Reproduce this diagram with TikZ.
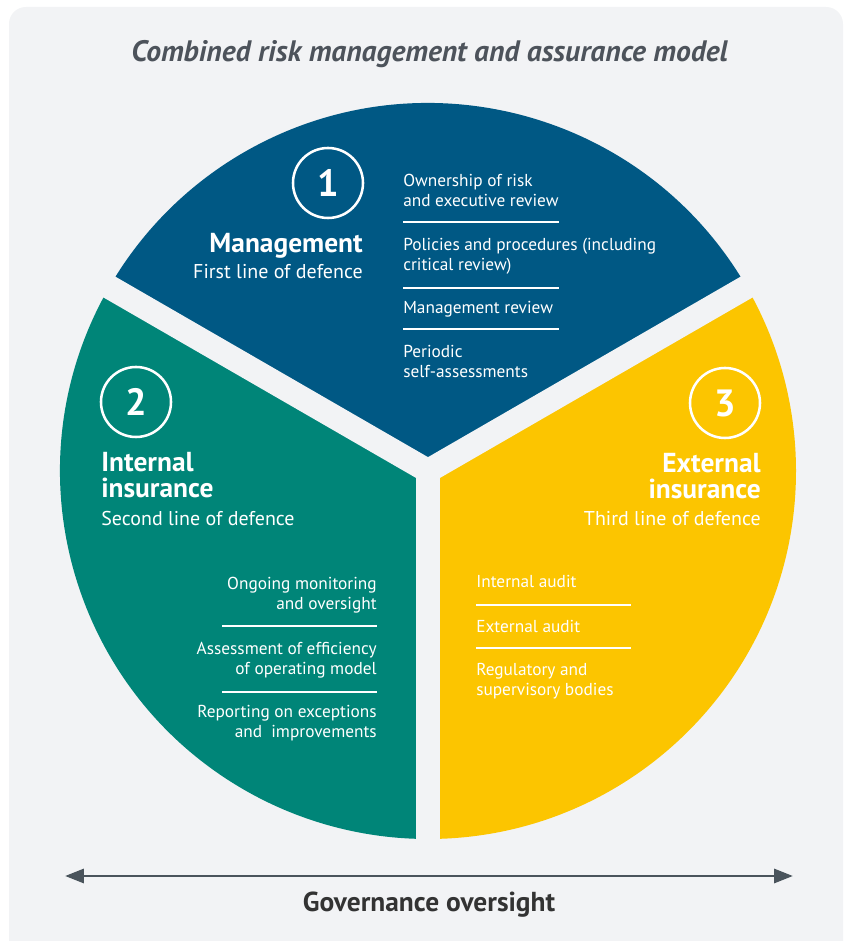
\documentclass[tikz,border=0pt]{standalone}
\usepackage{fontspec}
\setmainfont{PT Sans}
\usepackage{xcolor}
\definecolor{panelGrey}{HTML}{F2F3F5}
\definecolor{riskBlue}{HTML}{005884}
\definecolor{riskGreen}{HTML}{008578}
\definecolor{riskYellow}{HTML}{FCC500}
\definecolor{titleGrey}{HTML}{4D535B}
\definecolor{arrowGrey}{HTML}{4A545C}
\definecolor{govGrey}{HTML}{333333}
\usepackage{tikz}
\usetikzlibrary{arrows.meta}

\begin{document}
\begin{tikzpicture}[x=0.025cm, y=0.025cm,
  itemtext/.style={text=white, inner sep=0pt, font=\fontsize{12.3}{14.6}\selectfont},
  headtext/.style={text=white, inner sep=0pt, font=\bfseries\fontsize{19.5}{18.5}\selectfont},
  subtext/.style={text=white, inner sep=0pt, font=\fontsize{14.2}{15}\selectfont},
  numring/.style={circle, draw=white, line width=1.8pt, minimum size=1.75cm,
    inner sep=0pt, text=white, font=\bfseries\fontsize{27}{27}\selectfont},
  rule/.style={white, line width=1pt}]
  \useasboundingbox (0,0) rectangle (846,941);
  % panel
  \fill[panelGrey, rounded corners=12] (9,-20) rectangle (843,934);
  \node[anchor=base, text=titleGrey, inner sep=0pt] (title) at (429.5,879)
    {\resizebox{14.9cm}{!}{\bfseries\itshape Combined risk management and assurance model}};
  % the disc and its three gaps
  \coordinate (ctr) at (428,470);
  \fill[riskBlue]   (ctr) -- ++(30:368) arc[start angle=30, end angle=150, radius=368] -- cycle;
  \fill[riskGreen]  (ctr) -- ++(150:368) arc[start angle=150, end angle=270, radius=368] -- cycle;
  \fill[riskYellow] (ctr) -- ++(270:368) arc[start angle=270, end angle=390, radius=368] -- cycle;
  \foreach \a in {30,150,270} \draw[panelGrey, line width=17.07pt] (ctr) -- ++(\a:380);
  % 1: management
  \node[numring] (ring1) at (328,758) {1};
  \node[headtext, anchor=base east] (mgmt) at (363,688) {Management};
  \node[subtext, anchor=base east] (mgmtsub) at (363,662) {First line of defence};
  \node[itemtext, anchor=base west, align=left] (own) at (403,734) {Ownership of risk\\and executive review};
  \node[itemtext, anchor=base west, align=left] (pol) at (403,670) {Policies and procedures (including\\critical review)};
  \node[itemtext, anchor=base west] (mrev) at (403,627) {Management review};
  \node[itemtext, anchor=base west, align=left] (self) at (403,563) {Periodic\\self-assessments};
  \foreach \y in {719,653,612} \draw[rule] (403,\y) -- (559,\y);
  % 2: internal insurance
  \node[numring] (ring2) at (136,539) {2};
  \node[headtext, anchor=base west, align=left] (intl) at (101,443) {Internal\\insurance};
  \node[subtext, anchor=base west] (intlsub) at (101,415) {Second line of defence};
  \node[itemtext, anchor=base east, align=right] (mon) at (377,331) {Ongoing monitoring\\and oversight};
  \node[itemtext, anchor=base east, align=right] (eff) at (377,266) {Assessment of efficiency\\of operating model};
  \node[itemtext, anchor=base east, align=right] (rep) at (377,203) {Reporting on exceptions\\and~~improvements};
  \foreach \y in {315,249} \draw[rule] (222,\y) -- (377,\y);
  % 3: external insurance
  \node[numring] (ring3) at (725,538) {3};
  \node[headtext, anchor=base east, align=right] (extl) at (761,442) {External\\insurance};
  \node[subtext, anchor=base east] (extlsub) at (761,415) {Third line of defence};
  \node[itemtext, anchor=base west] (iaud) at (476,353) {Internal audit};
  \node[itemtext, anchor=base west] (eaud) at (476,308) {External audit};
  \node[itemtext, anchor=base west, align=left] (reg) at (476,245) {Regulatory and\\supervisory bodies};
  \foreach \y in {336,293} \draw[rule] (476,\y) -- (631,\y);
  % governance arrow
  \coordinate (govL) at (65,65);
  \coordinate (govR) at (793,65);
  \draw[arrowGrey, line width=2.1pt,
    {Triangle[length=13.5pt,width=10pt]}-{Triangle[length=13.5pt,width=10pt]}] (govL) -- (govR);
  \node[anchor=base, text=govGrey, inner sep=0pt, font=\bfseries\fontsize{19.5}{19.5}\selectfont]
    (gov) at (429,29) {Governance oversight};
\end{tikzpicture}
\end{document}
